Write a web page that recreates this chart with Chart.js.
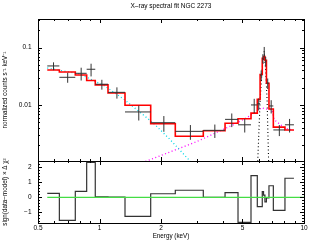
<!DOCTYPE html>
<html lang="en">
<head>
  <meta charset="UTF-8">
  <title>X-ray spectral fit NGC 2273</title>
  <script src="https://cdn.jsdelivr.net/npm/chart.js"></script>
  <style>
    body { margin: 0; background: #fff; }
    .wrap { position: relative; width: 314px; height: 240px; }
    .wrap canvas { position: absolute; left: 0; top: 0; }
  </style>
</head>
<body>
  <div class="wrap">
    <canvas id="specChart" width="314" height="240"></canvas>
    <canvas id="residChart" width="314" height="240"></canvas>
  </div>

  <script>
    // spectral bins (keV), counts and fit
    const binLo = [0.555, 0.636, 0.761, 0.865, 0.953, 1.10, 1.332, 1.779, 2.347, 3.217, 4.11, 4.756, 5.505, 5.91, 6.10, 6.25, 6.34, 6.44, 6.55, 6.74, 7.08, 8.07];
    const binHi = [0.636, 0.761, 0.865, 0.953, 1.10, 1.332, 1.779, 2.347, 3.217, 4.11, 4.756, 5.505, 5.91, 6.10, 6.25, 6.34, 6.44, 6.55, 6.74, 7.08, 8.07, 8.93];
    const rate = [0.048, 0.0304, 0.0357, 0.042, 0.023, 0.0166, 0.00755, 0.0049, 0.00346, 0.0036, 0.0056, 0.0045, 0.0100, 0.0105, 0.033, 0.065, 0.085, 0.058, 0.024, 0.0096, 0.00366, 0.0045];
    const rateErr = [0.0075, 0.006, 0.009, 0.0105, 0.0045, 0.0037, 0.0022, 0.0015, 0.001, 0.00095, 0.0015, 0.0012, 0.0028, 0.0025, 0.007, 0.012, 0.018, 0.011, 0.005, 0.0025, 0.0008, 0.0012];
    const model = [0.0408, 0.0376, 0.0334, 0.0268, 0.0224, 0.0162, 0.00987, 0.00471, 0.00284, 0.00355, 0.00479, 0.00575, 0.0072, 0.0125, 0.034, 0.065, 0.07, 0.06, 0.024, 0.0085, 0.0041, 0.00366];
    const resid = [0.27, -1.53, 0.4, 2.33, 0.04, 0.02, -1.27, 0.24, 0.47, 0.0, 0.31, -1.67, 1.44, -0.62, -0.62, 0.38, 0.15, -0.3, -0.03, 0.77, -0.87, 1.27];

    // model components
    const plE = [0.555, 0.80, 1.06, 1.33, 1.83, 2.21, 2.77, 3.1];
    const plRate = [0.0442, 0.0348, 0.0215, 0.0122, 0.00485, 0.0025, 0.00105, 0.00068];
    const reflE = [1.5, 1.70, 2.21, 2.99, 3.88, 4.60, 5.32, 5.89, 6.2, 6.5, 6.97, 7.15, 8.1, 8.93];
    const reflRate = [0.0009, 0.00105, 0.00151, 0.00229, 0.00352, 0.00466, 0.00617, 0.00786, 0.0089, 0.0085, 0.0082, 0.0055, 0.0039, 0.0036];
    const lineE = [5.93, 6.10, 6.25, 6.40, 6.50, 6.60, 6.72];
    const lineRate = [0.0009, 0.012, 0.045, 0.072, 0.04, 0.012, 0.0009];
    const zeroE = [0.555, 10];
    const zeroVal = [0, 0];

    // axes
    const eMajor = [1, 2, 5];
    const eMinor = [0.6, 0.7, 0.8, 0.9, 3, 4, 6, 7, 8, 9];
    const eLabels = { 0.5: '0.5', 1: '1', 2: '2', 5: '5', 10: '10' };
    const rateMajor = [0.01, 0.1];
    const rateMinor = [0.002, 0.003, 0.004, 0.005, 0.006, 0.007, 0.008, 0.009,
                       0.02, 0.03, 0.04, 0.05, 0.06, 0.07, 0.08, 0.09, 0.2, 0.3];
    const rateLabels = { 0.01: '0.01', 0.1: '0.1' };
    const residMajor = [-1, 0, 1, 2];
    const residMinor = [-1.6, -1.4, -1.2, -0.8, -0.6, -0.4, -0.2, 0.2, 0.4, 0.6, 0.8,
                        1.2, 1.4, 1.6, 1.8, 2.2, 2.4];
    const residLabels = { '-1': '−1', 0: '0', 1: '1', 2: '2' };

    const FONT = '"Liberation Sans", Arial, Helvetica, sans-serif';

    // inward tick marks on all four sides, placed by the chart's own scales
    const tickMarks = {
      id: 'tickMarks',
      afterDatasetsDraw(chart, args, opts) {
        const { ctx, chartArea: a, scales } = chart;
        ctx.save();
        ctx.strokeStyle = '#000';
        ctx.lineWidth = 1;
        ctx.beginPath();
        opts.x.forEach(([vals, len]) => vals.forEach(v => {
          const px = Math.round(scales.x.getPixelForValue(v)) + 0.5;
          ctx.moveTo(px, a.top); ctx.lineTo(px, a.top + len);
          ctx.moveTo(px, a.bottom); ctx.lineTo(px, a.bottom - len);
        }));
        opts.y.forEach(([vals, len]) => vals.forEach(v => {
          const py = Math.round(scales.y.getPixelForValue(v)) + 0.5;
          ctx.moveTo(a.left, py); ctx.lineTo(a.left + len, py);
          ctx.moveTo(a.right, py); ctx.lineTo(a.right - len, py);
        }));
        ctx.stroke();
        ctx.restore();
      }
    };

    function makeAxis(position, type, min, max, vals, opt) {
      opt = opt || {};
      const horiz = position === 'top' || position === 'bottom';
      return {
        type: type,
        position: position,
        axis: horiz ? 'x' : 'y',
        min: min,
        max: max,
        border: { display: true, color: '#000', width: 1 },
        grid: { drawOnChartArea: false, drawTicks: false },
        ticks: {
          display: !!opt.labels,
          autoSkip: false,
          maxRotation: 0,
          padding: opt.pad || 0,
          color: '#000',
          font: { family: FONT, size: 6.5 },
          callback: v => (opt.labels && opt.labels[v] !== undefined) ? opt.labels[v] : null
        },
        title: opt.title ? {
          display: true, text: opt.title, color: '#000',
          font: { family: FONT, size: 6.3 }, padding: { top: 1, bottom: 0 }
        } : { display: false },
        afterBuildTicks: s => { s.ticks = vals.map(v => ({ value: v })); },
        afterFit: s => { if (horiz) s.height = opt.size || 0; else s.width = opt.size || 0; }
      };
    }

    function lineSet(points, color, width, dash, order) {
      return {
        data: points, borderColor: color, borderWidth: width, borderDash: dash || [],
        pointRadius: 0, fill: false, tension: 0, spanGaps: false, order: order
      };
    }

    function stepPoints(lo, hi, vals) {
      const pts = [];
      lo.forEach((l, i) => { pts.push({ x: l, y: vals[i] }, { x: hi[i], y: vals[i] }); });
      return pts;
    }

    const crossPts = [];
    binLo.forEach((lo, i) => {
      const hi = binHi[i], c = (lo + hi) / 2;
      crossPts.push({ x: lo, y: rate[i] }, { x: hi, y: rate[i] }, { x: hi, y: null },
                    { x: c, y: rate[i] - rateErr[i] }, { x: c, y: rate[i] + rateErr[i] }, { x: c, y: null });
    });
    const pair = (xs, ys) => xs.map((x, i) => ({ x: x, y: ys[i] }));

    new Chart(document.getElementById('specChart'), {
      type: 'line',
      data: {
        datasets: [
          lineSet(crossPts, '#333', 1, null, 0),
          lineSet(stepPoints(binLo, binHi, model), '#ff0000', 1.6, null, 1),
          lineSet(pair(plE, plRate), '#00d8e8', 1.3, [1, 2.5], 2),
          lineSet(pair(reflE, reflRate), '#ff00ff', 1.3, [1, 2.5], 2),
          lineSet(pair(lineE, lineRate), '#000', 1.1, [1, 2.5], 2)
        ]
      },
      plugins: [tickMarks],
      options: {
        responsive: false,
        animation: false,
        devicePixelRatio: 1,
        layout: { padding: { top: 0, right: 10, bottom: 79, left: 0 } },
        plugins: {
          legend: { display: false },
          tooltip: { enabled: false },
          title: {
            display: true, text: 'X–ray spectral fit NGC 2273', fullSize: false, color: '#000',
            font: { family: FONT, size: 6.5, weight: 'normal' }, padding: { top: 2, bottom: 9.2 }
          },
          tickMarks: { x: [[eMajor, 4], [eMinor, 2]], y: [[rateMajor, 4], [rateMinor, 2]] }
        },
        scales: {
          x: makeAxis('bottom', 'logarithmic', 0.5, 10, eMajor),
          xt: makeAxis('top', 'logarithmic', 0.5, 10, eMajor),
          y: makeAxis('left', 'logarithmic', 0.00105, 0.317, rateMajor,
                      { labels: rateLabels, size: 38, pad: 6.5, title: 'normalized counts s⁻¹ keV⁻¹' }),
          yr: makeAxis('right', 'logarithmic', 0.00105, 0.317, rateMajor)
        }
      }
    });

    new Chart(document.getElementById('residChart'), {
      type: 'line',
      data: {
        datasets: [
          lineSet(pair(zeroE, zeroVal), '#44dd44', 1.3, null, 0),
          lineSet(stepPoints(binLo, binHi, resid), '#333', 1.2, null, 1)
        ]
      },
      plugins: [tickMarks],
      options: {
        responsive: false,
        animation: false,
        devicePixelRatio: 1,
        layout: { padding: { top: 161, right: 10, bottom: 0, left: 0 } },
        plugins: {
          legend: { display: false },
          tooltip: { enabled: false },
          tickMarks: { x: [[eMajor, 4], [eMinor, 2]], y: [[residMajor, 4], [residMinor, 2]] }
        },
        scales: {
          x: makeAxis('bottom', 'logarithmic', 0.5, 10, [0.5, 1, 2, 5, 10],
                      { labels: eLabels, size: 17, pad: 1, title: 'Energy (keV)' }),
          xt: makeAxis('top', 'logarithmic', 0.5, 10, eMajor),
          y: makeAxis('left', 'linear', -1.71, 2.42, residMajor,
                      { labels: residLabels, size: 38, pad: 6.5, title: 'sign(data−model) × Δ χ²' }),
          yr: makeAxis('right', 'linear', -1.71, 2.42, residMajor)
        }
      }
    });
  </script>
</body>
</html>
